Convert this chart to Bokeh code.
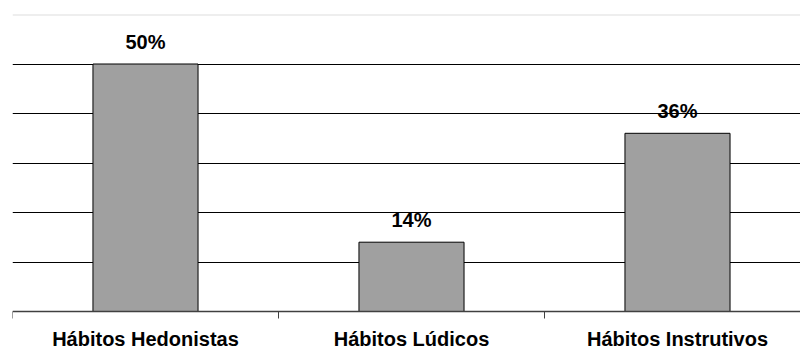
from bokeh.plotting import figure
from bokeh.models import Range1d, FixedTicker, ColumnDataSource, LabelSet, Span
from bokeh.core.properties import value
from bokeh.embed import file_html
from bokeh.resources import INLINE

categories = ["Hábitos Hedonistas", "Hábitos Lúdicos", "Hábitos Instrutivos"]
values = [50, 14, 36]
grid_ticks = [10, 20, 30, 40, 50]
y_max = 60

xs = [i + 0.5 for i in range(len(categories))]
labels = [f"{v}%" for v in values]
src = ColumnDataSource(dict(x=xs, top=values, label=labels))

FONT = "Liberation Sans"

# layout: frame from 14px to 349px; value axis 0 sits at 311px
top_px, zero_px, bottom_px = 14, 311, 349
units_per_px = y_max / (zero_px - top_px)
y_min = -(bottom_px - zero_px) * units_per_px

p = figure(width=800, height=349, output_backend="svg", toolbar_location=None,
           x_range=Range1d(0, 788 / 266), y_range=Range1d(y_min, y_max),
           min_border_left=12, min_border_right=0, min_border_top=top_px,
           min_border_bottom=0)
p.outline_line_color = None
p.background_fill_color = "white"
p.border_fill_color = "white"
p.xaxis.visible = False
p.yaxis.visible = False
p.xgrid.visible = False
p.ygrid.ticker = FixedTicker(ticks=grid_ticks)
p.ygrid.grid_line_color = "black"
p.ygrid.grid_line_width = 1

p.add_layout(Span(location=y_max, dimension="width", line_color="#dddddd", line_width=2))

p.vbar(x="x", top="top", width=0.395, bottom=0, source=src,
       fill_color="#a0a0a0", line_color="black", line_width=1)

# category axis: line, boundary ticks, labels
p.add_layout(Span(location=0, dimension="width", line_color="#404040", line_width=1.5))
bounds = list(range(len(categories)))
p.segment(x0=bounds, y0=[0] * len(bounds), x1=bounds,
          y1=[-7 * units_per_px] * len(bounds), line_color="#404040", line_width=1)
p.text(x=xs, y=[0] * len(xs), text=categories, text_align="center",
       text_baseline="alphabetic", y_offset=27, text_font=value(FONT),
       text_font_style="bold", text_font_size="20px", text_color="black")

p.add_layout(LabelSet(x="x", y="top", text="label", source=src,
                      text_align="center", text_baseline="alphabetic",
                      y_offset=15, text_font=value(FONT), text_font_style="bold",
                      text_font_size="20px", text_color="black"))

open("out.html", "w").write(file_html(p, INLINE))
